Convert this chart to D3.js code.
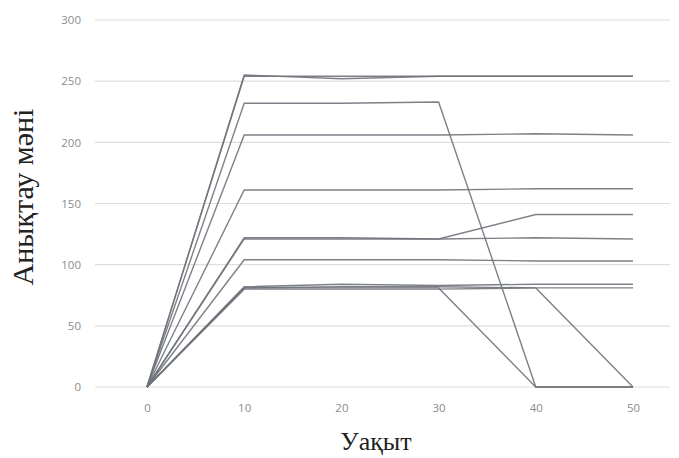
<!DOCTYPE html>
<html>
<head>
<meta charset="utf-8">
<script src="https://cdn.jsdelivr.net/npm/d3@7"></script>
<style>
  body { margin: 0; background: #fff; }
  svg { display: block; }
</style>
</head>
<body>
<svg id="chart" width="679" height="458"></svg>
<script>
// time points (x) and tick values
var times = [0, 10, 20, 30, 40, 50];
var yTicks = [0, 50, 100, 150, 200, 250, 300];

// each series: value at each time point
var s1 = [0, 254, 254, 254, 254, 254];
var s2 = [0, 255, 252, 254, 254, 254];
var s3 = [0, 232, 232, 233, 0, 0];
var s4 = [0, 206, 206, 206, 207, 206];
var s5 = [0, 161, 161, 161, 162, 162];
var s6 = [0, 122, 122, 121, 122, 121];
var s7 = [0, 121, 121, 121, 141, 141];
var s8 = [0, 104, 104, 104, 103, 103];
var s9 = [0, 81, 81, 81, 0, 0];
var s10 = [0, 81, 82, 82, 81, 0];
var s11 = [0, 82, 84, 83, 84, 84];
var s12 = [0, 80, 80, 80, 81, 81];
var allSeries = [s1, s2, s3, s4, s5, s6, s7, s8, s9, s10, s11, s12];

var svg = d3.select('#chart');

var x = d3.scaleLinear().domain([0, 50]).range([147, 633]);
var y = d3.scaleLinear().domain([0, 300]).range([387, 20]);

/* gridlines */
svg.append('g')
    .selectAll('line')
    .data(yTicks)
    .enter().append('line')
    .attr('x1', 95).attr('x2', 670)
    .attr('y1', function(d) { return y(d); })
    .attr('y2', function(d) { return y(d); })
    .attr('stroke', '#dedede')
    .attr('stroke-width', 1.2);

/* y tick labels */
var yAxis = svg.append('g')
    .attr('transform', 'translate(81,0)')
    .call(d3.axisLeft(y).tickValues(yTicks).tickSize(0).tickPadding(0));
yAxis.select('.domain').remove();
yAxis.selectAll('text')
    .attr('fill', '#8c8c8c')
    .style('font-family', 'Open Sans, sans-serif')
    .style('font-size', '11.5px');

/* x tick labels */
var xAxis = svg.append('g')
    .attr('transform', 'translate(0,401)')
    .call(d3.axisBottom(x).tickValues(times).tickSize(0).tickPadding(3));
xAxis.select('.domain').remove();
xAxis.selectAll('text')
    .attr('fill', '#8c8c8c')
    .style('font-family', 'Open Sans, sans-serif')
    .style('font-size', '11.5px');

/* series lines */
var line = d3.line()
    .x(function(d, i) { return x(times[i]); })
    .y(function(d) { return y(d); });

svg.append('g')
    .selectAll('path')
    .data(allSeries)
    .enter().append('path')
    .attr('d', line)
    .attr('fill', 'none')
    .attr('stroke', '#6f737a')
    .attr('stroke-opacity', 0.9)
    .attr('stroke-width', 1.4);

/* axis titles */
svg.append('text')
    .attr('x', 376).attr('y', 450)
    .attr('text-anchor', 'middle')
    .style('font-family', 'Liberation Serif, serif')
    .style('font-size', '26px')
    .attr('fill', '#222')
    .text('Уақыт');

svg.append('text')
    .attr('transform', 'translate(33,197) rotate(-90)')
    .attr('text-anchor', 'middle')
    .style('font-family', 'Liberation Serif, serif')
    .style('font-size', '30px')
    .attr('fill', '#222')
    .text('Анықтау мәні');
</script>
</body>
</html>
